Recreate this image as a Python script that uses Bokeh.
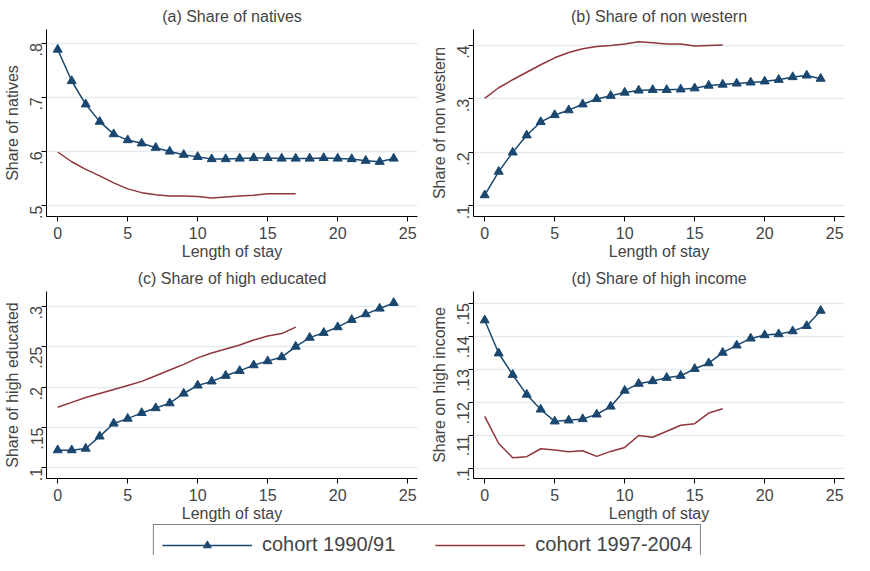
import math
from bokeh.plotting import figure
from bokeh.layouts import gridplot, column
from bokeh.models import Range1d, CustomJSTickFormatter, FixedTicker, Legend, LegendItem
from bokeh.embed import file_html
from bokeh.resources import INLINE

years_a = list(range(25))
years_b = list(range(18))

natives_9091 = [.788, .730, .687, .655, .632, .621, .615, .607, .600, .594, .590, .586, .586,
                .587, .588, .588, .587, .587, .587, .588, .587, .586, .583, .581, .587]
natives_9704 = [.599, .581, .567, .555, .542, .531, .524, .520, .518, .518, .517, .514, .516,
                .518, .519, .522, .522, .522]
nonwest_9091 = [.120, .164, .200, .232, .257, .270, .279, .290, .300, .306, .312, .316, .317,
                .317, .318, .320, .325, .327, .329, .331, .333, .336, .341, .344, .338]
nonwest_9704 = [.301, .321, .336, .350, .364, .377, .387, .394, .398, .400, .403, .407, .405,
                .403, .403, .399, .400, .401]
educ_9091 = [.122, .122, .124, .139, .155, .161, .168, .174, .180, .192, .202, .207, .214,
             .220, .227, .232, .237, .250, .261, .267, .274, .283, .290, .297, .304]
educ_9704 = [.175, .181, .187, .192, .197, .202, .207, .214, .221, .228, .236, .242, .247,
             .252, .258, .263, .266, .274]
income_9091 = [.1448, .1348, .1283, .1223, .1178, .1142, .1145, .1149, .1163, .1187, .1235,
               .1256, .1264, .1274, .1280, .1301, .1318, .1350, .1372, .1393, .1403, .1406,
               .1415, .1431, .1477]
income_9704 = [.1157, .1075, .1032, .1035, .1059, .1055, .1050, .1053, .1036, .1051, .1063,
               .1099, .1094, .1112, .1130, .1135, .1167, .1180]

BLUE = "#1a476f"
RED = "#90353b"

stata_fmt = CustomJSTickFormatter(code="""
    var s = (Math.round(tick*1000)/1000).toString();
    return s.replace(/^0\\./, '.');
""")


def panel(title, ylabel, y1, y2, yticks, yr):
    p = figure(width=427, height=262, title=title, output_backend="svg",
               toolbar_location=None, x_range=Range1d(-0.8, 25.7), y_range=Range1d(*yr),
               min_border_left=10, min_border_right=10, min_border_top=8, min_border_bottom=12)
    p.title.align = "center"
    p.title.text_font_style = "normal"
    p.title.text_font = "Liberation Sans"
    p.title.text_font_size = "16px"
    p.outline_line_color = None
    p.xgrid.grid_line_color = None
    p.ygrid.grid_line_color = "#e3ebf0"
    p.ygrid.grid_line_width = 1.5
    p.xaxis.ticker = FixedTicker(ticks=[0, 5, 10, 15, 20, 25])
    p.yaxis.ticker = FixedTicker(ticks=yticks)
    p.yaxis.formatter = stata_fmt
    p.yaxis.major_label_orientation = math.pi / 2
    p.xaxis.axis_label = "Length of stay"
    p.yaxis.axis_label = ylabel
    for ax in (p.xaxis, p.yaxis):
        ax.axis_label_text_font_style = "normal"
        ax.axis_label_text_font = "Liberation Sans"
        ax.axis_label_text_font_size = "16px"
        ax.major_label_text_font = "Liberation Sans"
        ax.major_label_text_font_size = "16px"
        ax.minor_tick_line_color = None
        ax.axis_line_color = "black"
        ax.major_tick_line_color = "black"
        ax.major_tick_out = 5
        ax.major_tick_in = 0
        ax.axis_label_standoff = 1
    p.line(years_a, y1, color=BLUE, line_width=1.5)
    p.scatter(years_a, y1, marker="triangle", size=9, color=BLUE)
    p.line(years_b, y2, color=RED, line_width=1.5)
    return p


pa = panel("(a) Share of natives", "Share of natives", natives_9091, natives_9704,
           [.5, .6, .7, .8], (0.48, 0.825))
pb = panel("(b) Share of non western", "Share of non western", nonwest_9091, nonwest_9704,
           [.1, .2, .3, .4], (0.08, 0.43))
pc = panel("(c) Share of high educated", "Share of high educated", educ_9091, educ_9704,
           [.1, .15, .2, .25, .3], (0.087, 0.318))
pd_ = panel("(d) Share of high income", "Share on high income", income_9091, income_9704,
            [.1, .11, .12, .13, .14, .15], (0.0969, 0.1535))

grid = gridplot([[pa, pb], [pc, pd_]], toolbar_location=None)

leg = figure(width=854, height=31, output_backend="svg", toolbar_location=None,
             x_range=Range1d(0, 1), y_range=Range1d(0, 1), min_border=0)
leg.axis.visible = False
leg.grid.visible = False
leg.outline_line_color = None
r1 = leg.line([2, 3], [2, 3], color=BLUE, line_width=1.5)
r1b = leg.scatter([2], [2], marker="triangle", size=11, color=BLUE)
r2 = leg.line([2, 3], [2, 3], color=RED, line_width=1.5)
legend = Legend(items=[LegendItem(label="cohort 1990/91", renderers=[r1, r1b]),
                       LegendItem(label="cohort 1997-2004", renderers=[r2])],
                orientation="horizontal", location="top_center",
                border_line_color="black", label_text_font="Liberation Sans",
                label_text_font_size="20px", glyph_width=90, spacing=40,
                padding=8, margin=0, label_standoff=10)
leg.add_layout(legend, "center")

page = column(grid, leg)
open("out.html", "w").write(file_html(page, INLINE))
